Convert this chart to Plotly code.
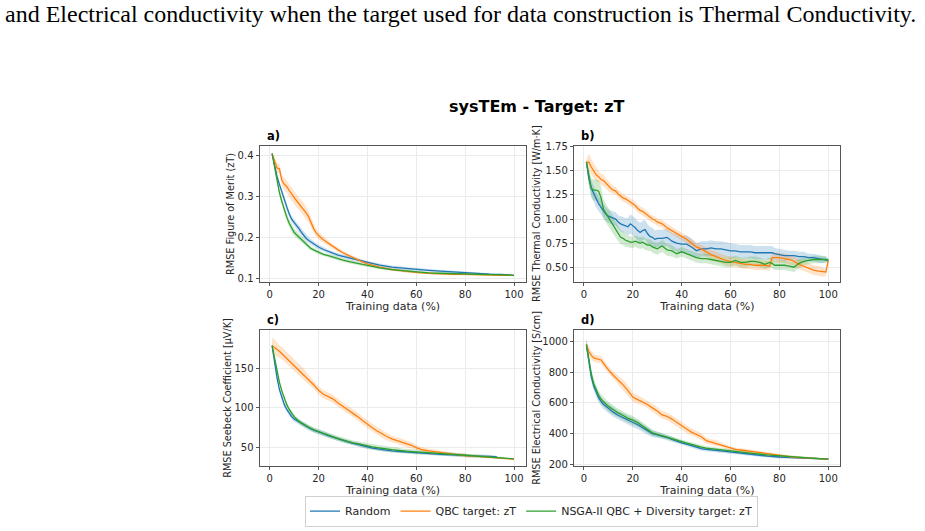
import plotly.graph_objects as go

# ---------------- data ----------------
X_A = [1,2,3,4,5,6,7,8,9,10,11,12,13,14,15,16,17,18,19,20,22,24,26,28,30,33,36,40,45,50,55,60,65,70,75,80,85,90,95,100]
A_RANDOM = [0.405,0.375,0.35,0.33,0.31,0.29,0.275,0.258,0.245,0.237,0.23,0.222,0.213,0.205,0.198,0.193,0.189,0.184,0.18,0.177,
            0.171,0.166,0.161,0.157,0.154,0.15,0.145,0.139,0.133,0.128,0.125,0.122,0.12,0.118,0.116,0.114,0.113,0.111,0.11,0.108]
A_RANDOM_SD = [0.002,0.004,0.005,0.006,0.007,0.008,0.008,0.008,0.008,0.008,0.008,0.008,0.008,0.008,0.007,0.007,0.007,0.006,0.006,0.006,
               0.005,0.005,0.005,0.005,0.005,0.005,0.005,0.004,0.004,0.004,0.004,0.004,0.003,0.003,0.003,0.003,0.003,0.002,0.002,0.001]
A_QBC = [0.405,0.385,0.37,0.368,0.34,0.33,0.325,0.315,0.305,0.298,0.29,0.283,0.276,0.268,0.26,0.25,0.235,0.222,0.212,0.205,
         0.195,0.186,0.178,0.17,0.163,0.154,0.146,0.136,0.128,0.122,0.118,0.115,0.113,0.111,0.11,0.11,0.109,0.109,0.108,0.108]
A_QBC_SD = [0.004,0.01,0.012,0.012,0.013,0.015,0.015,0.015,0.015,0.015,0.016,0.016,0.016,0.015,0.015,0.014,0.012,0.01,0.01,0.009,
            0.008,0.007,0.006,0.006,0.005,0.005,0.004,0.004,0.003,0.003,0.003,0.003,0.002,0.002,0.002,0.002,0.002,0.002,0.001,0.001]
A_NSGA = [0.405,0.37,0.34,0.31,0.288,0.268,0.25,0.235,0.222,0.213,0.207,0.202,0.196,0.19,0.184,0.178,0.173,0.17,0.167,0.164,
          0.159,0.156,0.152,0.148,0.145,0.141,0.137,0.131,0.126,0.122,0.119,0.116,0.114,0.113,0.112,0.111,0.11,0.11,0.109,0.108]
A_NSGA_SD = [0.003,0.006,0.008,0.009,0.01,0.01,0.01,0.01,0.01,0.009,0.009,0.008,0.007,0.007,0.006,0.006,0.005,0.005,0.005,0.005,
             0.004,0.004,0.004,0.004,0.004,0.004,0.003,0.003,0.003,0.003,0.003,0.003,0.002,0.002,0.002,0.002,0.002,0.002,0.001,0.001]

X_B = [1,2,3,4,5,6,7,8,9,10,11,12,13,14,15,16,17,18,19,20,21,22,23,24,25,26,27,28,29,30,32,34,36,38,40,42,44,46,48,50,
       52,54,56,58,60,62,64,66,68,70,72,74,76,77,78,80,82,84,86,88,90,92,94,96,98,99,100]
B_RANDOM = [1.59,1.42,1.32,1.26,1.20,1.16,1.12,1.08,1.05,1.03,1.02,1.01,1.00,0.97,0.95,0.94,0.93,0.92,0.95,0.93,
            0.91,0.88,0.86,0.88,0.89,0.85,0.82,0.81,0.79,0.80,0.80,0.81,0.77,0.75,0.74,0.74,0.71,0.67,0.69,0.69,
            0.70,0.69,0.69,0.68,0.67,0.67,0.66,0.66,0.66,0.65,0.65,0.65,0.65,0.65,0.64,0.63,0.62,0.62,0.62,0.61,
            0.61,0.60,0.60,0.59,0.58,0.58,0.57]
B_RANDOM_SD = [0.02,0.07,0.08,0.08,0.08,0.08,0.08,0.07,0.07,0.07,0.07,0.07,0.07,0.07,0.08,0.08,0.08,0.09,0.10,0.10,
               0.10,0.10,0.10,0.10,0.10,0.10,0.10,0.10,0.09,0.09,0.09,0.09,0.09,0.09,0.09,0.09,0.09,0.08,0.08,0.08,
               0.08,0.08,0.08,0.08,0.08,0.07,0.07,0.07,0.07,0.07,0.07,0.07,0.07,0.07,0.06,0.06,0.06,0.05,0.05,0.05,
               0.05,0.04,0.04,0.04,0.04,0.03,0.02]
B_QBC = [1.59,1.59,1.54,1.50,1.46,1.44,1.41,1.40,1.37,1.34,1.32,1.30,1.29,1.26,1.24,1.22,1.21,1.19,1.17,1.16,
         1.14,1.11,1.09,1.08,1.06,1.04,1.02,1.00,0.99,0.97,0.95,0.91,0.88,0.85,0.82,0.79,0.75,0.71,0.69,0.66,
         0.63,0.61,0.59,0.57,0.56,0.55,0.54,0.53,0.53,0.52,0.52,0.52,0.51,0.60,0.60,0.60,0.59,0.58,0.56,0.53,
         0.51,0.49,0.47,0.46,0.45,0.45,0.57]
B_QBC_SD = [0.03,0.09,0.08,0.08,0.07,0.06,0.06,0.06,0.05,0.05,0.05,0.04,0.04,0.04,0.04,0.04,0.04,0.04,0.04,0.04,
            0.04,0.04,0.04,0.04,0.04,0.04,0.04,0.04,0.04,0.04,0.04,0.04,0.04,0.04,0.04,0.04,0.04,0.04,0.04,0.05,
            0.05,0.05,0.05,0.05,0.05,0.05,0.05,0.05,0.05,0.05,0.05,0.05,0.05,0.05,0.05,0.05,0.05,0.05,0.05,0.05,
            0.05,0.05,0.05,0.05,0.05,0.04,0.02]
B_NSGA = [1.59,1.44,1.32,1.30,1.30,1.29,1.22,1.10,1.06,1.02,0.98,0.93,0.89,0.85,0.81,0.80,0.78,0.77,0.76,0.76,
          0.77,0.76,0.75,0.76,0.74,0.73,0.73,0.71,0.70,0.69,0.72,0.68,0.67,0.64,0.66,0.64,0.62,0.60,0.59,0.59,
          0.58,0.57,0.56,0.55,0.55,0.57,0.55,0.55,0.56,0.56,0.55,0.53,0.55,0.54,0.52,0.52,0.52,0.51,0.50,0.54,
          0.56,0.57,0.58,0.58,0.58,0.58,0.57]
B_NSGA_SD = [0.03,0.08,0.10,0.11,0.11,0.11,0.11,0.10,0.10,0.10,0.09,0.09,0.08,0.08,0.07,0.07,0.07,0.06,0.06,0.06,
             0.06,0.06,0.06,0.06,0.06,0.06,0.06,0.06,0.06,0.06,0.06,0.06,0.06,0.05,0.05,0.05,0.05,0.05,0.05,0.05,
             0.05,0.05,0.05,0.05,0.05,0.05,0.05,0.05,0.05,0.05,0.05,0.05,0.05,0.05,0.05,0.05,0.05,0.05,0.05,0.05,
             0.04,0.04,0.04,0.04,0.03,0.03,0.02]

X_C = [1,2,3,4,5,6,7,8,9,10,12,14,16,18,20,22,24,26,28,30,32,34,36,38,40,42,44,46,48,50,52,54,56,58,60,62,65,70,75,80,85,90,93,95,100]
X_C_RANDOM = [1,2,3,4,5,6,7,8,9,10,12,14,16,18,20,22,24,26,28,30,32,34,36,38,40,42,44,46,48,50,52,54,56,58,60,62,65,70,75,80,85,90,93]
C_RANDOM = [178,156,138,123,113,104,98,93,89,86,82,78,75,72,70,67.5,65,63,61,59,57,55.5,54,52,51,49.5,48.5,47.5,46.5,46,
            45.5,45,44.5,44,43.5,43,42.5,41.5,41,40,39.5,39,38.5]
C_RANDOM_SD = [2,3,3,3,3,3,3,3,3,3,3,3,3,3,3,3,3,2.5,2.5,2.5,2.5,2.5,2.5,2.5,2.5,2,2,2,2,2,
               2,2,2,2,2,2,2,2,2,2,2,2,1.5]
C_QBC = [178,176,173,171,168,165,162,159,156,153,148,142,135,129,122,117,114,111,106,102,97,93,89,84,79,75,71,67,64,61,
         59,57,55,53,50,48,46,44,42,40,39,38,37.5,37,35.5]
C_QBC_SD = [10,10,9,8,7,7,7,7,7,7,7,7,6,5,5,5,5,5,5,5,5,5,5,5,5,5,5,5,5,4,
            4,4,4,4,3,3,3,2,2,2,1.5,1.5,1,1,0.5]
C_NSGA = [178,162,146,132,121,111,104,98,93,89,83,79,75.5,72.5,70,67.5,65.5,63.5,61.5,59.5,58,56,55,53.5,52,51,50,49,48.5,47.5,
          47,46,45.5,45,44.5,44,43.5,42.5,41.5,40.5,39.5,38.5,38,37.5,36]
C_NSGA_SD = [2,3,3,3,3,3,3,3,3,3,3,3,3,3,3,3,3,3,3,3,3,3,3,3,3.5,3.5,3.5,3.5,3.5,3.5,
             3.5,3,3,3,3,3,2.5,2.5,2,2,1.5,1.5,1,1,0.5]

X_D = [1,2,3,4,5,6,7,8,9,10,12,14,16,18,20,22,24,26,28,30,32,34,36,38,40,42,44,46,48,50,52,54,56,58,60,62,65,70,75,80,85,90,93,95,100]
D_RANDOM = [980,860,770,710,670,635,610,590,578,565,540,520,505,488,472,458,438,418,400,392,385,375,362,350,340,332,322,312,302,298,
            296,292,288,284,280,276,270,262,254,248,244,240,238,237,234]
D_RANDOM_SD = [30,30,30,30,30,30,30,30,30,30,30,30,28,28,28,28,25,25,22,20,18,18,18,16,15,15,15,14,14,12,
               12,12,12,12,12,12,10,10,10,10,8,8,6,6,4]
D_QBC = [980,935,910,893,888,884,880,858,835,815,780,750,718,680,638,622,608,590,568,548,522,512,495,472,450,430,410,395,380,355,
         345,340,328,316,305,298,292,280,270,258,248,242,240,238,234]
D_QBC_SD = [30,30,28,25,25,25,25,25,25,25,25,30,35,35,30,28,25,25,25,25,25,25,25,25,25,25,25,22,22,20,
            18,18,15,15,12,12,10,10,10,10,8,8,6,6,4]
D_NSGA = [980,875,790,725,685,650,625,605,592,578,555,535,518,500,488,472,450,428,405,395,388,378,368,357,346,338,330,320,312,306,
          302,298,294,290,287,283,278,270,262,255,250,245,241,239,234]
D_NSGA_SD = [45,35,30,30,30,30,30,30,30,30,30,28,28,28,28,25,25,22,20,18,16,15,15,15,14,14,14,12,12,12,
             12,12,12,12,12,12,12,12,10,10,8,8,6,6,4]

SERIES = ["Random", "QBC target: zT", "NSGA-II QBC + Diversity target: zT"]
COLORS = ["#1f77b4", "#ff7f0e", "#2ca02c"]
FILLS = ["rgba(31,119,180,0.22)", "rgba(255,127,14,0.22)", "rgba(44,160,44,0.22)"]

PANEL_LABELS = ["a)", "b)", "c)", "d)"]
Y_TITLES = ["RMSE Figure of Merit (zT)", "RMSE Thermal Conductivity [W/m\u00b7K]",
            "RMSE Seebeck Coefficient [\u03bcV/K]", "RMSE Electrical Conductivity [S/cm]"]
X_TITLE = "Training data (%)"
TITLE = "sysTEm - Target: zT"
CAPTION = "and Electrical conductivity when the target used for data construction is Thermal Conductivity."

X_TICKS = [0, 20, 40, 60, 80, 100]
Y_TICKS = [[0.1, 0.2, 0.3, 0.4], [0.5, 0.75, 1.0, 1.25, 1.5, 1.75], [50, 100, 150], [200, 400, 600, 800, 1000]]
Y_TICKTEXT = [["0.1", "0.2", "0.3", "0.4"], ["0.50", "0.75", "1.00", "1.25", "1.50", "1.75"],
              ["50", "100", "150"], ["200", "400", "600", "800", "1000"]]
Y_RANGES = [[0.0918, 0.424], [0.347, 1.760], [27.3, 198.1], [191, 1077]]
X_RANGE = [-3.95, 104.95]

panels = [
    [(X_A, A_RANDOM, A_RANDOM_SD), (X_A, A_QBC, A_QBC_SD), (X_A, A_NSGA, A_NSGA_SD)],
    [(X_B, B_RANDOM, B_RANDOM_SD), (X_B, B_QBC, B_QBC_SD), (X_B, B_NSGA, B_NSGA_SD)],
    [(X_C_RANDOM, C_RANDOM, C_RANDOM_SD), (X_C, C_QBC, C_QBC_SD), (X_C, C_NSGA, C_NSGA_SD)],
    [(X_D, D_RANDOM, D_RANDOM_SD), (X_D, D_QBC, D_QBC_SD), (X_D, D_NSGA, D_NSGA_SD)],
]

# ---------------- layout geometry (pixels) ----------------
W, H = 925, 531
xdoms = [[260.0 / W, 526.1 / W], [574.3 / W, 840.4 / W]]
ydoms = [[1 - 281.7 / H, 1 - 143.3 / H], [1 - 468.7 / H, 1 - 330.3 / H]]
YLAB_X = [231, 537, 228, 537]

fig = go.Figure()
FONT = "DejaVu Sans"
AXC = "#555555"

for p, series in enumerate(panels):
    r, c = divmod(p, 2)
    ax = "" if p == 0 else str(p + 1)
    xref, yref = "x" + ax, "y" + ax
    for s, (xs, ys, sd) in enumerate(series):
        up = [m + d for m, d in zip(ys, sd)]
        lo = [m - d for m, d in zip(ys, sd)]
        fig.add_trace(go.Scatter(x=list(xs) + list(xs)[::-1], y=up + lo[::-1], fill="toself",
                                 fillcolor=FILLS[s], line=dict(width=0), mode="lines",
                                 hoverinfo="skip", showlegend=False, xaxis=xref, yaxis=yref))
    for s, (xs, ys, sd) in enumerate(series):
        fig.add_trace(go.Scatter(x=xs, y=ys, mode="lines", line=dict(color=COLORS[s], width=1.3),
                                 name=SERIES[s], legendgroup=SERIES[s], showlegend=(p == 0),
                                 xaxis=xref, yaxis=yref))
    common = dict(showline=True, linecolor=AXC, linewidth=1, mirror=True, ticks="outside",
                  ticklen=3.5, tickcolor=AXC, tickwidth=0.8, showgrid=True, gridcolor="#ebebeb",
                  gridwidth=1, zeroline=False, tickfont=dict(family=FONT, size=10, color="#262626"))
    fig.layout["xaxis" + ax] = dict(domain=xdoms[c], range=X_RANGE, tickvals=X_TICKS,
                                    anchor=yref, title=dict(text=X_TITLE, standoff=2,
                                    font=dict(family=FONT, size=11, color="#262626")), **common)
    fig.layout["yaxis" + ax] = dict(domain=ydoms[r], range=Y_RANGES[p], tickvals=Y_TICKS[p],
                                    ticktext=Y_TICKTEXT[p], anchor=xref, **common)
    # panel label
    fig.add_annotation(x=xdoms[c][0] + 5 / W, y=ydoms[r][1] + 1 / H, xref="paper", yref="paper",
                       text="<b>" + PANEL_LABELS[p] + "</b>", showarrow=False, xanchor="left",
                       yanchor="bottom", font=dict(family=FONT, size=11.5, color="black"))
    # y title
    fig.add_annotation(x=YLAB_X[p] / W, y=(ydoms[r][0] + ydoms[r][1]) / 2, xref="paper", yref="paper",
                       text=Y_TITLES[p], textangle=-90, showarrow=False, xanchor="center",
                       yanchor="middle", font=dict(family=FONT, size=9.7, color="#262626"))

fig.add_annotation(x=537 / W, y=1 - 103 / H, xref="paper", yref="paper", text="<b>" + TITLE + "</b>",
                   showarrow=False, xanchor="center", yanchor="middle",
                   font=dict(family=FONT, size=16, color="black"))
fig.add_annotation(x=3 / W, y=1 - 9 / H, xref="paper", yref="paper", text=CAPTION, showarrow=False,
                   xanchor="left", yanchor="middle", font=dict(family="Liberation Serif", size=24, color="black"))

fig.update_layout(
    width=W, height=H, margin=dict(l=0, r=0, t=0, b=0),
    paper_bgcolor="white", plot_bgcolor="white",
    legend=dict(orientation="h", x=531.5 / W, xanchor="center", y=1 - 499 / H, yanchor="top",
                bordercolor="#d0d0d0", borderwidth=1, bgcolor="white",
                font=dict(family=FONT, size=11, color="#262626")),
)

fig.write_html("out.html")
